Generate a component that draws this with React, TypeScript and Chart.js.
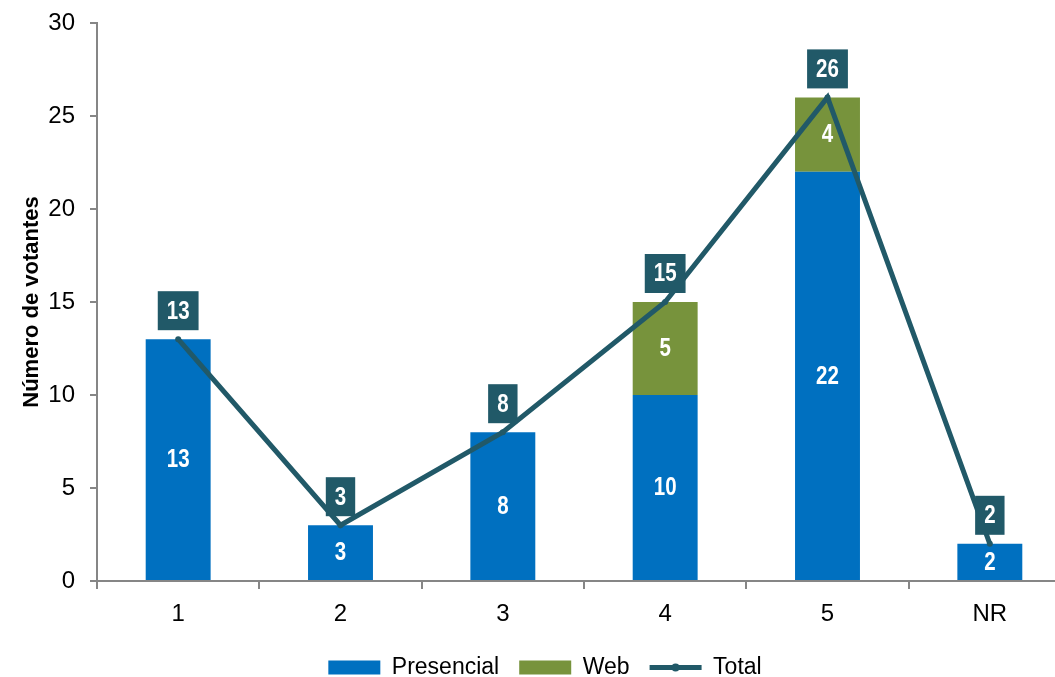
import React, { useEffect, useRef } from "react";
import { Chart, registerables } from "chart.js";

Chart.register(...registerables);

const categories = ["1", "2", "3", "4", "5", "NR"];
const presencial = [13, 3, 8, 10, 22, 2];
const web = [0, 0, 0, 5, 4, 0];
const total = [13, 3, 8, 15, 26, 2];
const yTicks = [0, 5, 10, 15, 20, 25, 30];

const BLUE = "#0070C0";
const GREEN = "#77933C";
const TEAL = "#215968";
const AXIS = "#868686";
const FONT = "'Liberation Sans', Arial, sans-serif";
// horizontal squeeze used to give the value labels a narrow look
const NARROW = 0.82;

// Value labels: white numbers centred in each bar segment, boxed totals above the line points.
const valueLabels = {
  id: "valueLabels",
  afterDatasetsDraw(chart: any) {
    const ctx = chart.ctx;
    ctx.save();
    ctx.textAlign = "center";
    ctx.textBaseline = "middle";
    ctx.font = `bold 25px ${FONT}`;
    const drawNarrow = (text: string, x: number, y: number) => {
      ctx.save();
      ctx.translate(x, y);
      ctx.scale(NARROW, 1);
      ctx.fillText(text, 0, 0);
      ctx.restore();
    };
    chart.data.datasets.forEach((ds: any, di: number) => {
      const meta = chart.getDatasetMeta(di);
      if (meta.hidden) return;
      meta.data.forEach((el: any, i: number) => {
        const v = ds.data[i];
        if (!v) return;
        const text = String(v);
        if (ds.type === "line") {
          const w = ctx.measureText(text).width * NARROW + 18;
          const h = 39;
          const bottom = el.y - 9;
          ctx.fillStyle = TEAL;
          ctx.fillRect(el.x - w / 2, bottom - h, w, h);
          ctx.fillStyle = "#ffffff";
          drawNarrow(text, el.x, bottom - h / 2 + 1);
        } else {
          ctx.fillStyle = "#ffffff";
          drawNarrow(text, el.x, (el.y + el.base) / 2 + 1);
        }
      });
    });
    ctx.restore();
  },
  afterDraw(chart: any) {
    // marker dot in the middle of the "Total" legend line
    const legend = chart.legend;
    if (!legend || !legend.legendHitBoxes) return;
    const idx = legend.legendItems.findIndex((it: any) => it.text === "Total");
    const hb = legend.legendHitBoxes[idx];
    if (!hb) return;
    const ctx = chart.ctx;
    ctx.save();
    ctx.fillStyle = TEAL;
    ctx.beginPath();
    ctx.arc(hb.left + 26, hb.top + hb.height / 2, 4, 0, Math.PI * 2);
    ctx.fill();
    ctx.restore();
  },
};

export default function App() {
  const ref = useRef<HTMLCanvasElement | null>(null);

  useEffect(() => {
    if (!ref.current) return;
    const chart = new Chart(ref.current, {
      type: "bar",
      data: {
        labels: categories,
        datasets: [
          {
            type: "line",
            label: "Total",
            data: total,
            stack: "total",
            borderColor: TEAL,
            backgroundColor: TEAL,
            borderWidth: 5,
            pointRadius: 3,
            pointBackgroundColor: TEAL,
            pointBorderWidth: 0,
            order: 0,
          } as any,
          {
            type: "bar",
            label: "Presencial",
            data: presencial,
            stack: "votos",
            backgroundColor: BLUE,
            barPercentage: 0.4,
            categoryPercentage: 1,
            order: 1,
          },
          {
            type: "bar",
            label: "Web",
            data: web,
            stack: "votos",
            backgroundColor: GREEN,
            barPercentage: 0.4,
            categoryPercentage: 1,
            order: 1,
          },
        ],
      },
      options: {
        responsive: false,
        animation: false,
        layout: { padding: { left: 19, right: 19, top: 23, bottom: 0 } },
        plugins: {
          tooltip: { enabled: false },
          legend: {
            position: "bottom",
            labels: {
              font: { family: FONT, size: 23 },
              color: "#000",
              usePointStyle: true,
              pointStyleWidth: 52,
              boxWidth: 52,
              boxHeight: 14,
              padding: 20,
              sort: (a: any, b: any) => {
                const rank: Record<string, number> = { Presencial: 0, Web: 1, Total: 2 };
                return rank[a.text] - rank[b.text];
              },
              generateLabels: (chart: any) =>
                chart.data.datasets.map((ds: any, i: number) => ({
                  text: ds.label,
                  datasetIndex: i,
                  fillStyle: ds.type === "line" ? TEAL : ds.backgroundColor,
                  strokeStyle: ds.type === "line" ? TEAL : ds.backgroundColor,
                  lineWidth: ds.type === "line" ? 5 : 0,
                  pointStyle: ds.type === "line" ? "line" : "rect",
                  fontColor: "#000",
                  hidden: false,
                })),
            },
          },
        },
        scales: {
          x: {
            stacked: true,
            offset: true,
            afterFit: (scale: any) => {
              scale.height = 55;
            },
            grid: {
              offset: true,
              drawOnChartArea: false,
              drawTicks: true,
              tickLength: 8,
              color: AXIS,
              lineWidth: 2,
            },
            border: { display: true, color: AXIS, width: 2 },
            ticks: { font: { family: FONT, size: 24 }, color: "#000", padding: 11 },
          },
          y: {
            stacked: true,
            min: 0,
            max: 30,
            afterFit: (scale: any) => {
              scale.width = 78;
              scale.paddingTop = 0;
              scale.paddingBottom = 0;
            },
            afterBuildTicks: (scale: any) => {
              scale.ticks = yTicks.map((v) => ({ value: v }));
            },
            grid: {
              drawOnChartArea: false,
              drawTicks: true,
              tickLength: 7,
              color: AXIS,
              lineWidth: 2,
            },
            border: { display: true, color: AXIS, width: 2 },
            ticks: { font: { family: FONT, size: 24 }, color: "#000", padding: 15 },
            title: {
              display: true,
              text: "Número de votantes",
              font: { family: FONT, size: 22, weight: "bold" },
              color: "#000",
              padding: { top: 0, bottom: 0 },
            },
          },
        },
      },
      plugins: [valueLabels],
    });
    return () => chart.destroy();
  }, []);

  return (
    <div
      style={{
        position: "fixed",
        left: 0,
        top: 0,
        width: 1055,
        height: 677,
        overflow: "hidden",
        background: "#fff",
      }}
    >
      <canvas ref={ref} width={1090} height={689} style={{ display: "block" }} />
    </div>
  );
}
